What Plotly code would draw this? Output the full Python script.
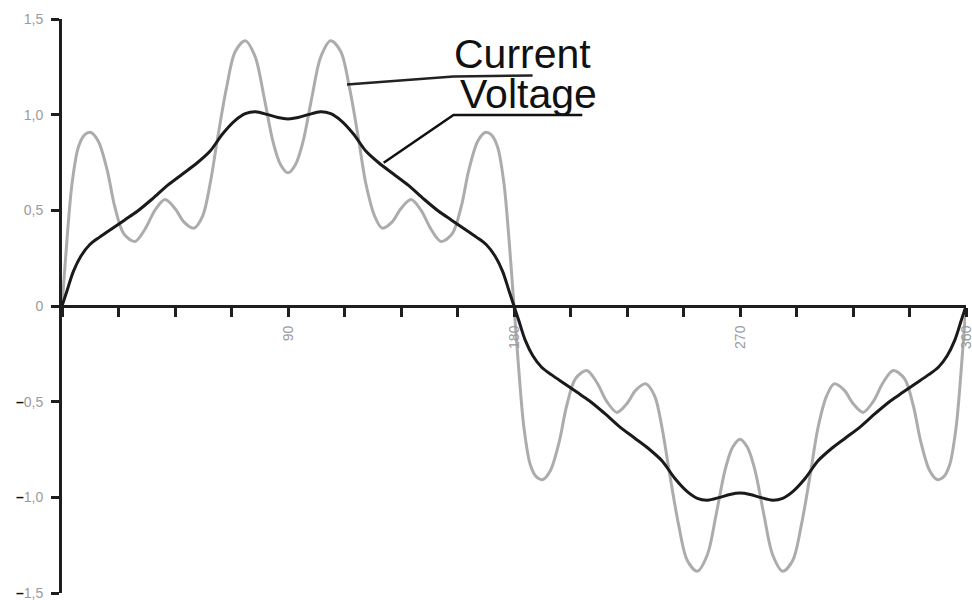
import plotly.graph_objects as go

# Current (grey) – angle in degrees and value
current_deg = [0, 2, 4, 6.5, 9, 11.5, 14.5, 18, 21, 24.5, 29, 33, 37, 41, 45, 48.5, 52.5, 56, 59, 62, 65.5, 69, 73, 77, 80.5, 84, 87, 90,
               93, 96, 99.5, 103, 107, 111, 114.5, 118, 121, 124.5, 127.5, 131.5, 135, 139, 143, 147, 151, 155.5, 159, 162, 165.5, 168.5, 171, 173.5, 176, 178, 180,
               182, 184, 186.5, 189, 191.5, 194.5, 198, 201, 204.5, 209, 213, 217, 221, 225, 228.5, 232.5, 236, 239, 242, 245.5, 249, 253, 257, 260.5, 264, 267, 270,
               273, 276, 279.5, 283, 287, 291, 294.5, 298, 301, 304.5, 307.5, 311.5, 315, 319, 323, 327, 331, 335.5, 339, 342, 345.5, 348.5, 351, 353.5, 356, 358, 360]
current_val = [0, 0.35, 0.64, 0.83, 0.895, 0.907, 0.86, 0.71, 0.52, 0.38, 0.337, 0.40, 0.50, 0.556, 0.51, 0.44, 0.407, 0.47, 0.64, 0.88, 1.14, 1.33, 1.386, 1.30, 1.09, 0.86, 0.74, 0.696,
               0.74, 0.86, 1.09, 1.30, 1.386, 1.33, 1.14, 0.88, 0.64, 0.47, 0.407, 0.44, 0.51, 0.556, 0.50, 0.40, 0.337, 0.38, 0.52, 0.71, 0.86, 0.907, 0.895, 0.83, 0.64, 0.35, 0,
               -0.35, -0.64, -0.83, -0.895, -0.907, -0.86, -0.71, -0.52, -0.38, -0.337, -0.40, -0.50, -0.556, -0.51, -0.44, -0.407, -0.47, -0.64, -0.88, -1.14, -1.33, -1.386, -1.30, -1.09, -0.86, -0.74, -0.696,
               -0.74, -0.86, -1.09, -1.30, -1.386, -1.33, -1.14, -0.88, -0.64, -0.47, -0.407, -0.44, -0.51, -0.556, -0.50, -0.40, -0.337, -0.38, -0.52, -0.71, -0.86, -0.907, -0.895, -0.83, -0.64, -0.35, 0]

# Voltage (black)
voltage_deg = [0, 2, 4.5, 7.5, 11, 15, 20, 25, 30, 36, 42, 48, 54, 59, 64, 69, 73, 77, 82, 86, 90,
               94, 98, 103, 107, 111, 116, 121, 126, 132, 138, 144, 150, 155, 160, 165, 169, 172.5, 175.5, 178, 180,
               182, 184.5, 187.5, 191, 195, 200, 205, 210, 216, 222, 228, 234, 239, 244, 249, 253, 257, 262, 266, 270,
               274, 278, 283, 287, 291, 296, 301, 306, 312, 318, 324, 330, 335, 340, 345, 349, 352.5, 355.5, 358, 360]
voltage_val = [0, 0.08, 0.18, 0.26, 0.32, 0.36, 0.405, 0.45, 0.495, 0.56, 0.63, 0.69, 0.75, 0.81, 0.90, 0.97, 1.005, 1.015, 1.0, 0.985, 0.978,
               0.985, 1.0, 1.015, 1.005, 0.97, 0.90, 0.81, 0.75, 0.69, 0.63, 0.56, 0.495, 0.45, 0.405, 0.36, 0.32, 0.26, 0.18, 0.08, 0,
               -0.08, -0.18, -0.26, -0.32, -0.36, -0.405, -0.45, -0.495, -0.56, -0.63, -0.69, -0.75, -0.81, -0.90, -0.97, -1.005, -1.015, -1.0, -0.985, -0.978,
               -0.985, -1.0, -1.015, -1.005, -0.97, -0.90, -0.81, -0.75, -0.69, -0.63, -0.56, -0.495, -0.45, -0.405, -0.36, -0.32, -0.26, -0.18, -0.08, 0]

x_tickvals = [0, 22.5, 45, 67.5, 90, 112.5, 135, 157.5, 180, 202.5, 225, 247.5, 270, 292.5, 315, 337.5, 360]
x_ticktext = ["", "", "", "", "90", "", "", "", "180", "", "", "", "270", "", "", "", "360"]
y_tickvals = [-1.5, -1.0, -0.5, 0, 0.5, 1.0, 1.5]
MINUS = "<span style='color:#111'><b>–</b></span>"
y_ticktext = [MINUS + "1,5", MINUS + "1,0", MINUS + "0,5", "0", "0,5", "1,0", "1,5"]

series_names = ["Current", "Voltage"]

AXC = "#1e1e1e"
LBL = "#9a9a9a"
FONT = "Liberation Sans, Arial, sans-serif"

fig = go.Figure()
fig.add_trace(go.Scatter(x=current_deg, y=current_val, mode="lines", name=series_names[0],
                         line=dict(color="#acacac", width=3, shape="spline", smoothing=0.9)))
fig.add_trace(go.Scatter(x=voltage_deg, y=voltage_val, mode="lines", name=series_names[1],
                         line=dict(color="#1a1a1a", width=3, shape="spline", smoothing=0.9)))

fig.update_layout(
    width=972, height=600,
    margin=dict(l=62, r=6, t=19, b=7, autoexpand=False),
    paper_bgcolor="white", plot_bgcolor="white",
    showlegend=False,
    font=dict(family=FONT, color=LBL, size=13),
    xaxis=dict(range=[0, 360], anchor="free", position=0.5, showgrid=False, zeroline=False, automargin=False,
               showline=True, linecolor=AXC, linewidth=3,
               tickmode="array", tickvals=x_tickvals, ticktext=x_ticktext, tickangle=-90,
               ticks="outside", ticklen=9, tickwidth=3, tickcolor=AXC, ticklabelstandoff=3,
               ticklabeloverflow="allow",
               tickfont=dict(size=14, color=LBL, family=FONT)),
    xaxis2=dict(range=[0, 360], overlaying="x", anchor="free", position=0.5, showgrid=False, zeroline=False,
                automargin=False, showline=False, tickmode="array", tickvals=x_tickvals, showticklabels=False,
                ticks="inside", ticklen=5, tickwidth=3, tickcolor=AXC),
    yaxis=dict(range=[-1.5, 1.5], showgrid=False, zeroline=False, automargin=False,
               showline=True, linecolor=AXC, linewidth=3,
               tickmode="array", tickvals=y_tickvals, ticktext=y_ticktext,
               ticks="outside", ticklen=8, tickwidth=3, tickcolor=AXC, ticklabelstandoff=5,
               ticklabeloverflow="allow",
               tickfont=dict(size=14, color=LBL, family=FONT)),
    yaxis2=dict(range=[-1.5, 1.5], overlaying="y", anchor="x", side="left", showgrid=False, zeroline=False,
                automargin=False, showline=False, tickmode="array", tickvals=y_tickvals, showticklabels=False,
                ticks="inside", ticklen=6, tickwidth=3, tickcolor=AXC),
)

# Leader lines and underlines for the labels
fig.add_shape(type="path", path="M 113.5,1.158 L 155.9,1.2 L 187.4,1.205",
              line=dict(color="#222", width=2.5), xref="x", yref="y")
fig.add_shape(type="path", path="M 128.1,0.749 L 155.9,0.998 L 207.2,0.998",
              line=dict(color="#111", width=2.5), xref="x", yref="y")

fig.add_annotation(x=155.4, y=1.316, text=series_names[0], showarrow=False, xanchor="left", yanchor="middle",
                   font=dict(family=FONT, size=41, color="#111"))
fig.add_annotation(x=157.5, y=1.11, text=series_names[1], showarrow=False, xanchor="left", yanchor="middle",
                   font=dict(family=FONT, size=41, color="#111"))

fig.write_html("out.html", config={"displayModeBar": False},
               post_script="document.body.style.margin='0';document.body.style.overflow='hidden';")
